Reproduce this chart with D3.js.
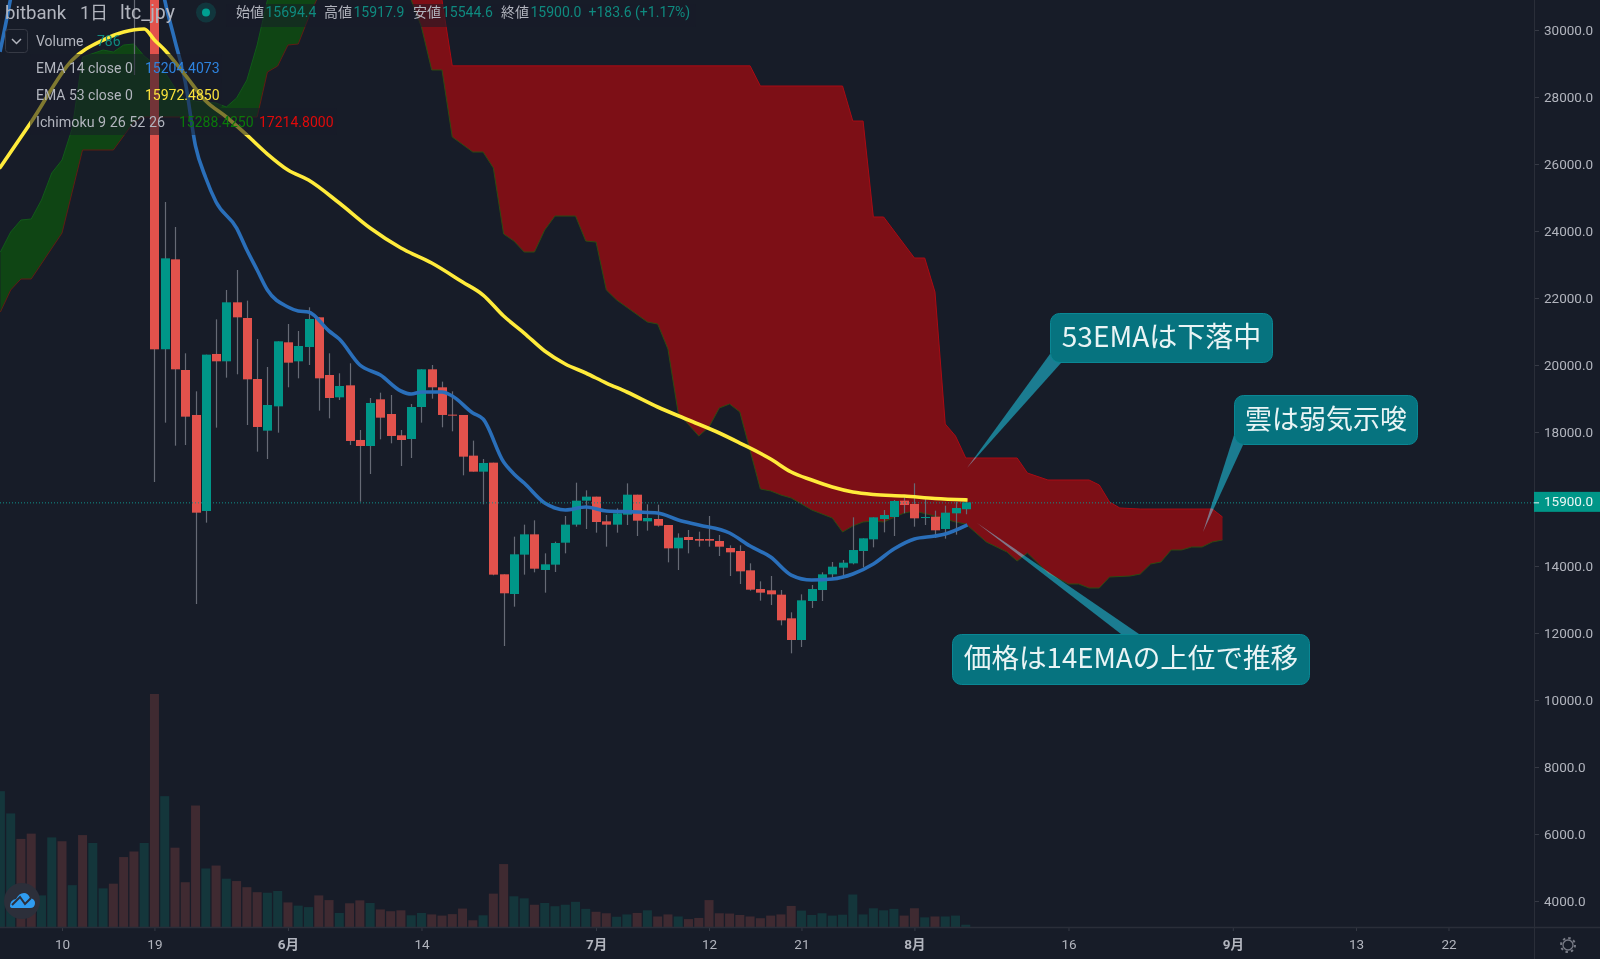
<!DOCTYPE html>
<html><head><meta charset="utf-8">
<script src="https://cdnjs.cloudflare.com/ajax/libs/d3/7.8.5/d3.min.js"></script>
<style>
html,body{margin:0;padding:0;background:#171c28;overflow:hidden}
svg{display:block}
text{font-family:Roboto,"Noto Sans CJK JP",sans-serif}
.cjk{font-family:"Noto Sans CJK JP",sans-serif}
</style></head><body><div id="c"></div>
<script>
// ---- DATA (daily, 2021) ----
const firstDay = "2021-05-04";
const volumes = [46400,38800,30100,31900,10800,30600,29300,14300,31400,28700,13200,14800,23900,25800,28700,79600,44700,27100,15300,41500,20000,21000,16500,15700,13600,11900,11700,12300,
 8400,7300,6800,10800,9200,4800,8100,9100,8200,6000,5400,5700,4000,4800,4300,3900,4400,6300,2300,4000,11400,21500,10500,9800,7600,8200,7100,7600,8600,6200,
 5200,4700,3500,4300,4800,5700,3600,4300,3600,2700,3100,9200,4700,4600,4100,3600,3000,3900,4300,7200,5600,4100,4700,3900,4200,11100,4300,6400,5700,6200,3900,
 6400,3300,3600,3600,3900,786];
const volumeUp = [1,1,0,0,1,1,0,1,0,1,1,0,0,0,1,0,1,0,0,0,1,0,1,0,0,0,1,1,
 0,1,1,0,0,1,0,0,1,0,0,0,1,1,0,0,0,0,0,1,0,0,1,1,0,1,1,1,1,1,
 0,0,1,1,0,1,0,0,1,0,0,0,0,0,0,0,0,0,0,0,1,1,1,1,1,1,1,1,1,1,0,
 0,1,0,1,1,1];
const candleStart = 13; // day index of the first candle (17 May)
const candleOpen = [32000,31500,33500,20470,23154,19851,18508,15642,20329,20110,21871,21403,19582,18040,18766,
 20677,20110,20537,21423,19702,19035,19393,17762,17582,18975,18537,17901,17791,18746,19871,19334,18518,18508,17294,16816,17085,13752,13164,14339,14945,13881,14040,14696,15234,15950,
 16070,15333,15234,15532,16129,15333,15403,15224,14527,14866,14806,14806,14746,14537,14448,13871,13313,13274,13144,12438,11791,12955,13283,13751,13950,14079,14448,14796,15403,15463,15950,
 15851,15442,15472,15105,15572,15694.4];
const candleClose = [30900,33500,20468,23184,19871,18458,15592,20309,20110,21871,21423,19572,18150,18806,20707,
 20070,20567,21373,19602,19015,19373,17732,17582,18866,18428,17881,17761,18746,19871,19334,18508,18498,17264,16816,17075,13742,13185,14349,14945,13920,14050,14686,15234,15950,16070,
 15313,15234,15572,16129,15353,15433,15204,14527,14846,14776,14756,14756,14577,14408,13841,13293,13204,13154,12378,11791,12975,13313,13751,13980,14099,14477,14826,15453,15522,15940,15821,
 15423,15462,15065,15592,15731,15900];
const candleHigh = [33000,34500,34500,24865,24119,20349,19214,20309,21363,22239,22836,21921,20776,19940,20707,
 21224,21015,21722,21423,20349,19752,20050,18060,19015,19174,19105,18060,18836,19871,20000,19503,19214,18508,17742,17194,17085,13752,14876,15234,15363,14378,14726,15493,16487,16259,
 16070,15522,15721,16467,16129,15841,15831,15224,14975,15075,15025,15493,14925,14617,14617,14080,13542,13701,13283,12617,13154,13433,13811,14119,14179,15453,14826,15453,15672,15970,16069,
 16468,15999,15652,15801,15920,15917.9];
const candleLow = [28656,31000,16508,18279,17592,17612,12866,15294,18130,19622,19722,18209,17413,17194,17980,
 19334,19602,20000,18637,18408,18955,17612,15921,16747,17781,17662,16985,17224,18279,18995,18140,18020,16707,16816,15841,13722,11612,12786,13742,13811,13204,13821,14378,15174,15104,
 14995,14577,14995,15224,14895,15055,15174,14109,13881,14378,14577,14577,14298,13701,13463,13264,12965,12836,12229,11393,11582,12746,12955,13602,13662,14050,13960,14557,15005,14895,15572,
 15174,15224,14836,14816,14935,15544.6];
const ema53Days = [0,3,7,10,12,14,15,16,18,20,22,24,26,28,30,33,36,39,42,45,47,49,51,53,55,57,59,61,64,67,70,72,75,77,79,81,83,85,88,91,94];
const ema53Vals = [25910,27253,29104,29701,29940,30029,29701,29403,28656,27880,27403,26865,26298,25821,25522,24835,24089,23492,23044,22477,22089,21462,20955,20418,20030,19761,19462,19194,18746,18358,17970,17671,17194,16806,16567,16358,16209,16134,16089,16015,15972.485];
const ema14Days = [0,1,3,14,15,16,17,18,19,20,21,23,24,25,26,28,29,30,32,33,35,37,39,40,41,43,44,46,47,49,50,51,53,54,55,57,59,62,64,66,68,71,73,75,77,79,81,83,85,87,89,91,92,94];
const ema14Vals = [29403,30955,35000,35000,32500,30895,29671,28447,26537,25582,24865,24089,23433,22836,22239,21731,21612,21582,21015,20776,20000,19701,19224,19134,19194,19194,19074,18567,18388,17104,16746,16477,15880,15731,15672,15761,15642,15612,15582,15373,15224,14985,14597,14269,13731,13582,13612,13761,14060,14507,14806,14895,14955,15204.4073];
const bullUpperDays = [0,1,2,3,4,5,6,7,8,10,11,12,13,14,16,17,18,19,20,21,22,23,24,25,26,27,31];
const bullUpperVals = [23373,23970,24328,24358,24925,25731,26119,27074,29194,29403,29343,29552,29582,29223,28746,28268,27910,27880,27850,27820,27701,27970,28507,29552,30895,31500,32500];
const bullLowerDays = [0,1,2,3,6,8,11,13,14,25,26,27,28,29,30,31];
const bullLowerVals = [21582,22239,22567,22567,23940,26418,26418,27253,27403,27403,28746,28925,29552,29582,30358,31044];
const bearUpperDays = [39,43,44,73,74,82,83,84,85,86,89,90,91,92,93,94,99,100,102,106,107,108,109,111,118,119];
const bearUpperVals = [32000,30895,28930,28930,28328,28328,27283,27283,24418,24418,23194,23194,22179,18239,17880,17224,17224,16776,16567,16567,16418,15910,15731,15701,15701,15463];
const bearLowerDays = [39,40,41,42,43,44,46,47,48,49,50,51,52,53,54,56,57,58,59,60,63,64,65,66,68,69,70,71,72,74,75,76,77,79,81,82,83,84,85,86,88,89,91,93,94,96,98,99,100,102,104,105,106,107,108,110,111,112,113,114,115,116,117,118,119];
const bearLowerVals = [32000,30895,30089,28806,28806,26806,26358,26358,25880,23910,23701,23373,23373,24030,24447,24447,23701,23671,22239,21940,21283,21224,20477,18567,17880,18149,18716,18836,18597,16298,16239,16119,16030,15672,15433,15015,15194,15313,15343,15313,15582,15642,15492,15313,15254,14716,14418,14149,14388,13791,13463,13463,13343,13343,13672,13701,13761,14060,14119,14478,14478,14567,14567,14716,14776];
const priceTicks = [4000,6000,8000,10000,12000,14000,18000,20000,22000,24000,26000,28000,30000];
const lastPrice = 15900;
const timeTicks = [["2021-05-10","10"],["2021-05-19","19"],["2021-06-01","6月"],["2021-06-14","14"],["2021-07-01","7月"],["2021-07-12","12"],["2021-07-21","21"],["2021-08-01","8月"],["2021-08-16","16"],["2021-09-01","9月"],["2021-09-13","13"],["2021-09-22","22"]];
const callouts = [
 {text:"53EMAは下落中", size:28, box:[1050,313,1273,363], tail:[[1050,354],[1061,363],[967,468]]},
 {text:"雲は弱気示唆", size:27, box:[1234,395,1418,445], tail:[[1234,435],[1243,445],[1203,532]]},
 {text:"価格は14EMAの上位で推移", size:27.6, box:[952,634,1310,685], tail:[[1121,634],[1139,634],[977,523]]}
];

// ---- LAYOUT / SCALES ----
const W=1600,H=959,axisX=1534,baseY=927;
const day=i=>new Date(Date.parse(firstDay)+i*864e5);
const x=d3.scaleUtc().domain([day(0),day(141)]).range([0.4,0.4+141*10.27]);
const y=d3.scaleLinear().domain([10000,30000]).range([700,30]);
const vy=d3.scaleLinear().domain([0,79600]).range([baseY,694]);
const C={bg:"#171c28",up:"#009688",dn:"#e2524c",wick:"#666a75",upV:"#14363b",dnV:"#3f2a31",txt:"#b2b5be"};

const svg=d3.select("#c").append("svg").attr("width",W).attr("height",H).attr("viewBox",`0 0 ${W} ${H}`);
svg.append("rect").attr("width",W).attr("height",H).attr("fill",C.bg);
const defs=svg.append("defs");
defs.append("clipPath").attr("id","plot").append("rect").attr("width",axisX).attr("height",baseY);
const plot=svg.append("g").attr("clip-path","url(#plot)");

// volume
plot.append("g").selectAll("rect").data(volumes).join("rect")
 .attr("x",(d,i)=>x(day(i))-4.5).attr("width",9)
 .attr("y",d=>vy(d)).attr("height",d=>baseY-vy(d))
 .attr("fill",(d,i)=>volumeUp[i]?C.upV:C.dnV);

// cloud
const pairs=(ds,vs)=>ds.map((d,i)=>[x(day(d)),y(vs[i])]);
const line=d3.line();
const smooth=d3.line().curve(d3.curveMonotoneX);
function cloud(ud,uv,ld,lv,fill,uStroke,lStroke){
  const u=pairs(ud,uv),l=pairs(ld,lv);
  plot.append("path").attr("d",line(u.concat(l.slice().reverse()))+"Z").attr("fill",fill);
  plot.append("path").attr("d",line(u)).attr("fill","none").attr("stroke",uStroke).attr("stroke-width",1);
  plot.append("path").attr("d",line(l)).attr("fill","none").attr("stroke",lStroke).attr("stroke-width",1);
}
cloud(bullUpperDays,bullUpperVals,bullLowerDays,bullLowerVals,"#0f4514","#12591a","#5f1d14");
cloud(bearUpperDays,bearUpperVals,bearLowerDays,bearLowerVals,"#7d0f16","#a90b14","#2f4a12");

// candles
const cg=plot.append("g");
candleOpen.forEach((o,k)=>{
  const c=candleClose[k],cx=Math.round(x(day(candleStart+k)))+.5,up=c>=o;
  cg.append("line").attr("x1",cx).attr("x2",cx).attr("y1",y(candleHigh[k])).attr("y2",y(candleLow[k])).attr("stroke",C.wick).attr("stroke-width",1.2);
  cg.append("rect").attr("x",cx-4.5).attr("width",9).attr("y",y(Math.max(o,c))).attr("height",Math.max(1,Math.abs(y(o)-y(c)))).attr("fill",up?C.up:C.dn);
});

// EMAs
plot.append("path").attr("d",smooth(pairs(ema14Days,ema14Vals))).attr("fill","none").attr("stroke","#2a6fba").attr("stroke-width",3.6).attr("stroke-linejoin","round").attr("stroke-linecap","square");
plot.append("path").attr("d",smooth(pairs(ema53Days,ema53Vals))).attr("fill","none").attr("stroke","#ffeb3b").attr("stroke-width",3.6).attr("stroke-linejoin","round").attr("stroke-linecap","square");

// last price line
svg.append("line").attr("x1",0).attr("x2",axisX).attr("y1",y(lastPrice)+.5).attr("y2",y(lastPrice)+.5)
 .attr("stroke","#10918c").attr("stroke-width",1).attr("stroke-dasharray","1 2");

// callouts
callouts.forEach(c=>{
  const g=svg.append("g");
  g.append("path").attr("d",line(c.tail)+"Z").attr("fill","#046c7c").style("mix-blend-mode","screen");
  const [a,b,e,f]=c.box;
  g.append("rect").attr("x",a+.5).attr("y",b+.5).attr("width",e-a-1).attr("height",f-b-1).attr("rx",9)
   .attr("fill","#06737f").attr("stroke","#0a8794").attr("stroke-width",1);
  g.append("text").attr("class","cjk").attr("x",(a+e)/2).attr("y",(b+f)/2+8.5).attr("text-anchor","middle")
   .attr("font-size",c.size).attr("fill","#e9f4f5").text(c.text);
});

// axes
const ay=svg.append("g").attr("transform",`translate(${axisX},0)`)
 .call(d3.axisRight(y).tickValues(priceTicks).tickSize(5).tickPadding(5).tickFormat(d=>d.toFixed(1)));
ay.select(".domain").remove();
ay.selectAll("line").attr("stroke","#363a45");
ay.selectAll("text").attr("fill",C.txt).attr("font-size",13.5).attr("font-family","Roboto");
svg.append("line").attr("x1",axisX+.5).attr("x2",axisX+.5).attr("y1",0).attr("y2",H).attr("stroke","#2a2e39");

const tickDates=timeTicks.map(t=>new Date(t[0]));
const ax=svg.append("g").attr("transform",`translate(0,${baseY})`)
 .call(d3.axisBottom(x).tickValues(tickDates).tickSize(4).tickPadding(8).tickFormat((d,i)=>timeTicks[i][1]));
ax.select(".domain").remove();
ax.selectAll("line").attr("stroke","#363a45");
ax.selectAll("text").attr("fill",C.txt).attr("font-size",13.5).attr("font-weight",(d,i)=>/月/.test(timeTicks[i][1])?700:400);
svg.append("line").attr("x1",0).attr("x2",W).attr("y1",baseY+.5).attr("y2",baseY+.5).attr("stroke","#2a2e39").attr("stroke-width",1.5);

// price label
svg.append("rect").attr("x",axisX).attr("y",y(lastPrice)-10.5).attr("width",W-axisX).attr("height",20).attr("fill",C.up);
svg.append("line").attr("x1",axisX).attr("x2",axisX+5).attr("y1",y(lastPrice)+.5).attr("y2",y(lastPrice)+.5).attr("stroke","#e8f4f3");
svg.append("text").attr("x",axisX+10).attr("y",y(lastPrice)+4).attr("font-size",13.5).attr("fill","#eaf6f5").text(lastPrice.toFixed(1));

// header + legend
const T=(xp,yp,s,fill,size=14)=>svg.append("text").attr("x",xp).attr("y",yp).attr("font-size",size).attr("fill",fill).text(s);
const dim=(a,b,c,d,o=.55)=>svg.append("rect").attr("x",a).attr("y",b).attr("width",c-a).attr("height",d-b).attr("rx",3).attr("fill",C.bg).attr("fill-opacity",o);
dim(226,4,696,27);
dim(30,54,222,81);dim(30,81,222,108);dim(30,108,337,135);
T(5,19,"bitbank",C.txt,18.6);T(80,19,"1日",C.txt,18);T(120,19,"ltc_jpy",C.txt,19.5);
svg.append("circle").attr("cx",206).attr("cy",12.5).attr("r",10).attr("fill","#00968a").attr("fill-opacity",.22);
svg.append("circle").attr("cx",206).attr("cy",12.5).attr("r",4).attr("fill","#00a091");
const green="#0f8a7f";
[[236,"始値",265.5,"15694.4"],[324,"高値",353.5,"15917.9"],[413,"安値",442,"15544.6"],[501,"終値",530.5,"15900.0"]].forEach(r=>{
  T(r[0],17,r[1],C.txt);T(r[2],17,r[3],green);
});
T(588.5,17,"+183.6 (+1.17%)",green);
svg.append("rect").attr("x",5.5).attr("y",29.5).attr("width",22).attr("height",23).attr("rx",3).attr("fill",C.bg).attr("stroke","#363a45");
svg.append("path").attr("d","M12 39 L16.5 43.5 L21 39").attr("fill","none").attr("stroke",C.txt).attr("stroke-width",1.5);
T(36,46,"Volume",C.txt);T(97,46,"786",green);
T(36,73,"EMA 14 close 0",C.txt);T(145,73,"15204.4073","#2e83de");
T(36,100,"EMA 53 close 0",C.txt);T(145,100,"15972.4850","#fbe33c");
T(36,127,"Ichimoku 9 26 52 26",C.txt,14.3);T(179,127,"15288.4250","#0a7a0a");T(259,127,"17214.8000","#e00a0a");

// logo
svg.append("circle").attr("cx",22).attr("cy",901).attr("r",18).attr("fill","#2c2f3a");
svg.append("path").attr("d","M10 906 q0 -6 6 -7 q3 -6 8 -6 q4 0 6 5 q5 1 5 5 q0 5 -5 5 h-17 q-3 0 -3 -2z").attr("fill","#2f9cf0");
svg.append("path").attr("d","M12 905 L20 897 L25 904 L31 898").attr("fill","none").attr("stroke","#2c2f3a").attr("stroke-width",2);

// gear
svg.append("circle").attr("cx",1568).attr("cy",945).attr("r",5).attr("fill","none").attr("stroke","#787b86").attr("stroke-width",1.3);
svg.append("circle").attr("cx",1568).attr("cy",945).attr("r",7).attr("fill","none").attr("stroke","#787b86").attr("stroke-width",2).attr("stroke-dasharray","2.5 3");
</script></body></html>
